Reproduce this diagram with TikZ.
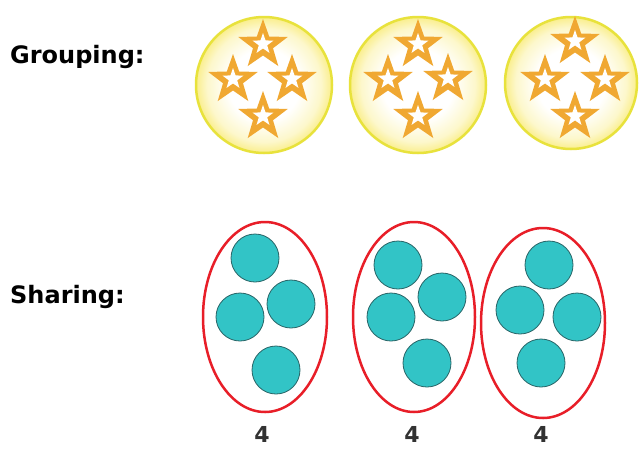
\documentclass[tikz,border=0pt]{standalone}
\usepackage{fontspec}
\setmainfont{DejaVu Sans}
\definecolor{rimyellow}{RGB}{232,226,60}
\definecolor{paleyellow}{RGB}{250,238,140}
\definecolor{starorange}{RGB}{240,168,50}
\definecolor{tealfill}{RGB}{50,196,198}
\definecolor{tealedge}{RGB}{40,100,102}
\definecolor{ringred}{RGB}{232,30,40}
\definecolor{numgray}{RGB}{50,50,50}
\pgfdeclareradialshading{glowshade}{\pgfpoint{0bp}{0bp}}{color(0bp)=(white); color(13bp)=(white); color(21bp)=(white!55!paleyellow); color(25bp)=(paleyellow); color(50bp)=(paleyellow)}
\tikzset{
  glow/.style={shading=glowshade},
  rim/.style={draw=rimyellow, line width=2.5pt},
  ring/.style={draw=ringred, line width=2.5pt},
  ball/.style={fill=tealfill, draw=tealedge, line width=0.8pt},
  heading/.style={font=\fontsize{24}{28}\selectfont\bfseries, anchor=west, inner sep=0pt},
  count/.style={font=\fontsize{22}{24}\selectfont\bfseries, text=numgray, inner sep=0pt},
  ostar/.pic={
    \fill[starorange] (-90:26) -- (-54:10.5) -- (-18:26) -- (18:10.5) -- (54:26) -- (90:10.5) -- (126:26) -- (162:10.5) -- (198:26) -- (234:10.5) -- cycle;
    \fill[white] ([yshift=1pt]-90:11) -- ([yshift=1pt]-54:4.4) -- ([yshift=1pt]-18:11) -- ([yshift=1pt]18:4.4) -- ([yshift=1pt]54:11) -- ([yshift=1pt]90:4.4) -- ([yshift=1pt]126:11) -- ([yshift=1pt]162:4.4) -- ([yshift=1pt]198:11) -- ([yshift=1pt]234:4.4) -- cycle;
  }
}
\begin{document}
\begin{tikzpicture}[x=1pt,y=-1pt]
\useasboundingbox (0,0) rectangle (640,448);
\fill[white] (0,0) rectangle (640,448);

\node[heading] (grouping) at (10,57) {Grouping:};
\node[heading] (sharing) at (10,297) {Sharing:};

% grouping circles
\shade[glow] (264,85) circle (68);
\draw[rim] (264,85) circle (68);
\shade[glow] (418,85) circle (68);
\draw[rim] (418,85) circle (68);
\shade[glow] (571,83) circle (66);
\draw[rim] (571,83) circle (66);

\foreach \p in {(263,45),(233,80),(292,80),(263,117),
                (418,45),(388,80),(448,79),(418,117),
                (575,42),(545,80),(605,80),(575,117)}
  \pic at \p {ostar};

% sharing groups
\draw[ring] (265,317) ellipse [x radius=62, y radius=95];
\draw[ring] (414,317) ellipse [x radius=61, y radius=95];
\draw[ring] (543,323) ellipse [x radius=62, y radius=95];

\foreach \p in {(255,258),(240,317),(291,304),(276,370),
                (398,265),(442,297),(391,317),(427,363),
                (549,265),(520,310),(577,317),(541,363)}
  \draw[ball] \p circle (24);

\node[count] (n1) at (262,434) {4};
\node[count] (n2) at (412,434) {4};
\node[count] (n3) at (541,434) {4};
\end{tikzpicture}
\end{document}
